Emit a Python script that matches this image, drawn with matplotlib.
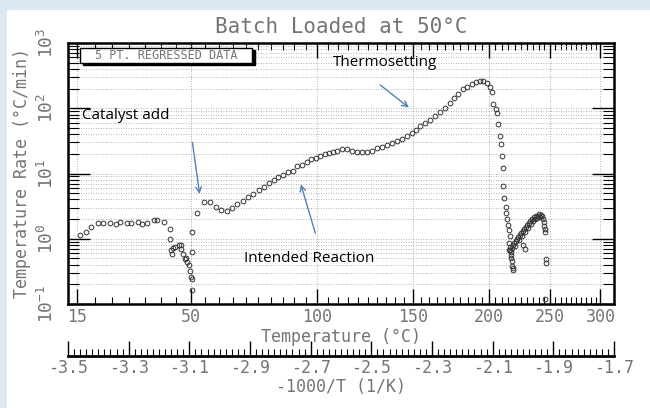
import numpy as np
import matplotlib
matplotlib.use("Agg")
import matplotlib.pyplot as plt
from matplotlib.patches import Rectangle

# x = -1000/T (1/K), y = temperature rate (°C/min)
before_x = [-3.459, -3.442, -3.425, -3.401, -3.386, -3.363, -3.343, -3.330, -3.306, -3.293,
            -3.269, -3.256, -3.240, -3.216, -3.206, -3.183, -3.165, -3.164, -3.159, -3.157,
            -3.153, -3.146, -3.135, -3.128, -3.127, -3.122, -3.115, -3.110, -3.108, -3.102,
            -3.098, -3.094, -3.091, -3.092, -3.092, -3.090]
before_y = [1.14, 1.28, 1.49, 1.74, 1.74, 1.76, 1.70, 1.80, 1.76, 1.74,
            1.78, 1.70, 1.74, 1.91, 1.93, 1.82, 1.42, 1.00, 0.68, 0.575,
            0.72, 0.74, 0.79, 0.80, 0.70, 0.58, 0.49, 0.50, 0.44, 0.40,
            0.32, 0.26, 0.24, 0.166, 1.29, 0.63]

after_x = [-3.074, -3.052, -3.032, -3.013, -2.997, -2.977, -2.958, -2.942, -2.924, -2.907,
           -2.889, -2.871, -2.854, -2.838, -2.822, -2.807, -2.791, -2.776, -2.759, -2.745,
           -2.730, -2.713, -2.698, -2.682, -2.668, -2.653, -2.639, -2.625, -2.612,
           -2.598, -2.581, -2.565, -2.548, -2.532, -2.515, -2.499, -2.482, -2.466, -2.449,
           -2.433, -2.416, -2.400, -2.383, -2.367, -2.353, -2.340, -2.323, -2.307, -2.290,
           -2.274, -2.257, -2.241, -2.228, -2.213, -2.197, -2.184, -2.169, -2.155, -2.142,
           -2.131, -2.118, -2.109, -2.102, -2.098, -2.090, -2.087, -2.081, -2.076, -2.072,
           -2.070, -2.067, -2.065, -2.062, -2.057, -2.056, -2.052, -2.048, -2.045, -2.043,
           -2.045, -2.043, -2.040, -2.037, -2.035, -2.034]
after_y = [2.48, 3.7, 3.7, 3.07, 2.76, 2.66, 2.98, 3.4, 3.82, 4.36,
           4.9, 5.6, 6.3, 7.2, 8.0, 8.7, 9.5, 10.5, 11.1, 12.9,
           13.3, 15.0, 16.5, 17.3, 18.7, 19.8, 20.7, 21.6, 22.4,
           23.5, 23.5, 22.5, 21.6, 21.5, 21.5, 22.5, 24.5, 25.8, 27.3,
           29.3, 31.5, 34.0, 37.8, 41.5, 47.0, 53.0, 60.0, 67.0, 75.0,
           87.0, 102.0, 122.0, 144.0, 168.0, 195.0, 214.0, 235.0, 250.0, 262.0,
           265.0, 242.0, 214.0, 180.0, 118.0, 96.0, 85.0, 57.0, 38.0, 28.0,
           18.5, 12.0, 6.5, 4.2, 3.1, 2.48, 2.0, 1.64, 1.37, 1.12,
           0.86, 0.68, 0.57, 0.45, 0.38, 0.335]

late_x = [-2.046, -2.043, -2.040, -2.036, -2.033, -2.030, -2.026, -2.023, -2.020, -2.0165,
          -2.013, -2.010, -2.007, -2.003, -2.000, -1.997, -1.993, -1.990, -1.987, -1.9835,
          -1.980, -1.977, -1.974, -1.970, -1.967, -1.964, -1.960, -1.957, -1.954, -1.9505,
          -1.947, -1.944, -1.941, -1.937, -1.934, -1.931, -1.931, -1.927, -1.927,
          -2.000, -1.993, -1.924, -1.924, -1.927, -2.038, -2.034]
late_y = [0.68, 0.75, 0.63, 0.73, 0.80, 0.86, 0.78, 0.93, 1.00, 1.07,
          0.96, 1.15, 1.24, 1.11, 1.33, 1.42, 1.28, 1.53, 1.64, 1.47,
          1.76, 1.89, 1.70, 2.03, 1.89, 2.18, 2.03, 2.25, 2.10, 2.25,
          2.40, 2.18, 2.35, 2.25, 2.03, 1.82, 1.58, 1.42, 1.28,
          0.79, 0.70, 0.49, 0.43, 0.12, 0.50, 0.36]

temp_ticks = [15, 50, 100, 150, 200, 250, 300]
inv_ticks = [-3.5, -3.3, -3.1, -2.9, -2.7, -2.5, -2.3, -2.1, -1.9, -1.7]

gray = "#747474"
mono = "DejaVu Sans Mono"
plt.rcParams["font.family"] = mono
plt.rcParams["mathtext.fontset"] = "custom"
plt.rcParams["mathtext.rm"] = mono

fig = plt.figure(figsize=(6.5, 4.08), dpi=100, facecolor="#dde8f5")
fig.patches.append(Rectangle((7 / 650, 0), 1, 1 - 10 / 408, transform=fig.transFigure,
                             facecolor="white", edgecolor="none", zorder=-10))
ax = fig.add_axes([68 / 650, 1 - 304 / 408, 546 / 650, 261 / 408])

x_all = before_x + after_x + late_x
y_all = before_y + after_y + late_y
ax.plot(x_all, y_all, "o", ms=3.4, mfc="none", mec="#333333", mew=0.7)

ax.set_yscale("log")
ax.set_ylim(0.1, 1000)
ax.set_xlim(-3.5, -1.7)

# temperature ticks on -1000/T scale
def to_inv(c):
    return -1000.0 / (np.asarray(c, dtype=float) + 273.15)

ax.set_xticks(to_inv(temp_ticks))
ax.set_xticklabels([str(t) for t in temp_ticks])
ax.set_xticks(to_inv(np.arange(15, 301, 5)), minor=True)
ax.tick_params(axis="x", which="major", direction="in", length=11, width=1,
               top=True, labelsize=12, labelcolor=gray, pad=3)
ax.tick_params(axis="x", which="minor", direction="in", length=5, width=0.8, top=True)
ax.tick_params(axis="y", which="major", direction="in", length=16, width=1,
               right=True, labelsize=13, labelcolor=gray, pad=8)
ax.tick_params(axis="y", which="minor", direction="in", length=8, width=0.8, right=True)
ax.set_yticks([0.1, 1, 10, 100, 1000])
ax.set_yticklabels(["$10^{-1}$", "$10^{0}$", "$10^{1}$", "$10^{2}$", "$10^{3}$"],
                   rotation=90, va="center")

ax.grid(True, which="major", axis="x", ls=(0, (1, 2)), color="#999999", lw=0.6)
ax.grid(True, which="both", axis="y", ls=(0, (1, 2)), color="#999999", lw=0.6)
for s in ax.spines.values():
    s.set_linewidth(1.8)

ax.set_xlabel("Temperature (°C)", fontsize=12, color=gray, labelpad=1)
ax.set_ylabel("Temperature Rate (°C/min)", fontsize=12, color=gray, labelpad=4)
ax.set_title("Batch Loaded at 50°C", fontsize=15, color=gray, pad=7)

sec = ax.secondary_xaxis(-0.2)
sec.set_xticks(inv_ticks)
sec.set_xticklabels([f"{v:.1f}" for v in inv_ticks])
sec.set_xticks(np.arange(-3.5, -1.69, 0.02), minor=True)
sec.tick_params(which="major", direction="in", length=11, width=1, labelsize=12,
                labelcolor=gray, pad=2)
sec.tick_params(which="minor", direction="in", length=5, width=0.8)
sec.spines["bottom"].set_linewidth(2)
sec.set_xlabel("-1000/T (1/K)", fontsize=12, color=gray, labelpad=1)

# legend-like box with drop shadow
ax.add_patch(Rectangle((0.027, 0.914), 0.315, 0.058, transform=ax.transAxes,
                       facecolor="black", edgecolor="black", zorder=5))
ax.add_patch(Rectangle((0.022, 0.922), 0.315, 0.058, transform=ax.transAxes,
                       facecolor="white", edgecolor="black", lw=1, zorder=6))
ax.text(0.1795, 0.951, "5 PT. REGRESSED DATA", transform=ax.transAxes, fontsize=8.5,
        color=gray, va="center", ha="center", zorder=7)

note = dict(fontsize=11, family="Open Sans", color="black")
ax.text(-3.454, 78, "Catalyst add", va="center", **note)
ax.text(-2.626, 507, "Thermosetting", va="center", **note)
ax.text(-2.920, 0.494, "Intended Reaction", va="center", **note)

arrow = dict(arrowstyle="->", color="#4f81bd", lw=1)
ax.annotate("", xy=(-3.065, 4.4), xytext=(-3.091, 33), arrowprops=arrow)
ax.annotate("", xy=(-2.735, 7.5), xytext=(-2.682, 1.11), arrowprops=arrow)
ax.annotate("", xy=(-2.369, 96.5), xytext=(-2.478, 242), arrowprops=arrow)

fig.savefig("out.png", dpi=100, facecolor=fig.get_facecolor())
